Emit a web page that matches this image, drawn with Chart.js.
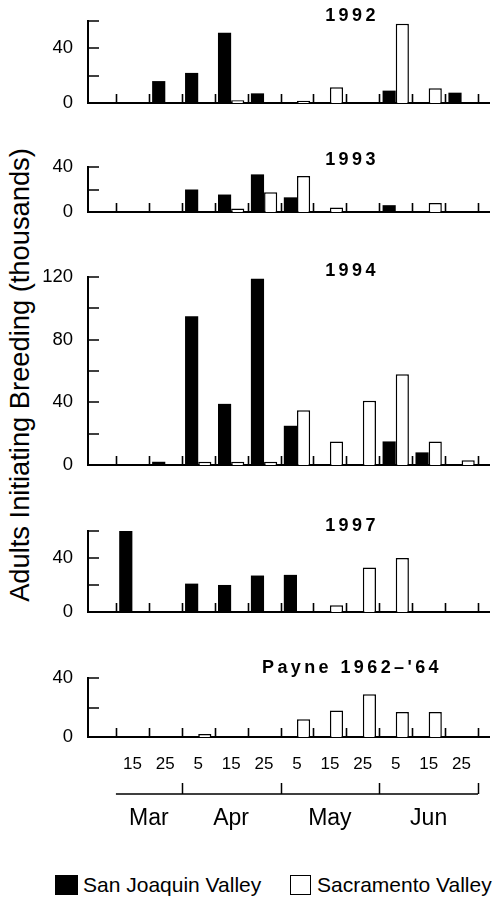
<!DOCTYPE html>
<html>
<head>
<meta charset="utf-8">
<script src="https://cdn.jsdelivr.net/npm/chart.js@4/dist/chart.umd.min.js"></script>
<style>
html,body{margin:0;padding:0;background:#fff;}
body{width:498px;height:899px;position:relative;overflow:hidden;font-family:"Liberation Sans",Arial,Helvetica,sans-serif;color:#000;}
canvas{position:absolute;left:0;}
.ttl{position:absolute;left:249px;width:200px;text-align:center;font-weight:bold;font-size:18px;line-height:20px;letter-spacing:3.4px;padding-left:3px;white-space:nowrap;}
#ytitle{position:absolute;left:-280px;top:360px;width:600px;height:30px;line-height:30px;font-size:27.3px;text-align:center;white-space:nowrap;transform:rotate(-90deg);transform-origin:50% 50%;}
.lg{position:absolute;font-size:21px;line-height:24px;white-space:nowrap;}
.sw{position:absolute;box-sizing:border-box;}
</style>
</head>
<body>
<div id="ytitle">Adults Initiating Breeding (thousands)</div>

<div class="sw" style="left:55px;top:875px;width:23px;height:20px;background:#000;"></div>
<div class="lg" style="left:83px;top:873px;">San Joaquin Valley</div>
<div class="sw" style="left:290px;top:875px;width:21px;height:20px;background:#fff;border:1px solid #000;"></div>
<div class="lg" style="left:317px;top:873px;">Sacramento Valley</div>

<script>
// ---- data ----
const categories = ['15','25','5','15','25','5','15','25','5','15','25'];
const months = ['Mar','Apr','May','Jun'];
const monthPeriods = [2,3,3,3];           // number of 10-day periods shown per month
const seriesNames = ['San Joaquin Valley','Sacramento Valley'];
const panelTitles = ['1992','1993','1994','1997',"Payne 1962\u2013'64"];
const yMaxima = [60,40,120,60,40];

const sanJoaquin1992 = [null,16,22,51.5,7,null,null,null,9,null,7.5];
const sacramento1992 = [null,null,null,2,null,1.5,11.5,null,58,10.7,null];
const sanJoaquin1993 = [null,null,20,15.5,33.5,13,null,null,6,null,null];
const sacramento1993 = [null,null,null,3,17.5,32,4,null,null,8,null];
const sanJoaquin1994 = [null,2,95,39,119,25,null,null,15,8,null];
const sacramento1994 = [null,null,2,2,2,35,15,41,58,15,3];
const sanJoaquin1997 = [60,null,21,20,27,27.5,null,null,null,null,null];
const sacramento1997 = [null,null,null,null,null,null,5,33,40,null,null];
const sanJoaquinPayne = [null,null,null,null,null,null,null,null,null,null,null];
const sacramentoPayne = [null,null,2,null,null,12,18,29,17,17,null];

const panelData = [
  [sanJoaquin1992, sacramento1992],
  [sanJoaquin1993, sacramento1993],
  [sanJoaquin1994, sacramento1994],
  [sanJoaquin1997, sacramento1997],
  [sanJoaquinPayne, sacramentoPayne]
];

// ---- layout (pixels) ----
const plotTops  = [7,153,263,517,664];
const plotZeros = [117,226,479,626,737];
const titleCenters = [15,159,270,525,667];
const X_MIN = -0.348, X_MAX = 11.833;
const FONT = '"Liberation Sans", Arial, Helvetica, sans-serif';

// month centres and boundaries derived from monthPeriods
const monthBounds = [0.5];
monthPeriods.forEach(n => monthBounds.push(monthBounds[monthBounds.length-1] + n));
const monthCenters = months.map((m,i) => (monthBounds[i] + monthBounds[i+1]) / 2);

const innerTicks = {
  id: 'innerTicks',
  afterDraw(chart, args, opts) {
    const {ctx, chartArea: a, scales} = chart;
    const x = scales.x, y = scales.y;
    ctx.save();
    ctx.strokeStyle = '#000';
    ctx.lineWidth = 1.6;
    ctx.beginPath();
    y.ticks.forEach(t => {
      const py = Math.round(y.getPixelForValue(t.value));
      ctx.moveTo(a.left, py); ctx.lineTo(a.left + 11, py);
    });
    for (let i = 0; i <= categories.length; i++) {
      const px = Math.round(x.getPixelForValue(i + 0.5)) + 0.5;
      ctx.moveTo(px, a.bottom); ctx.lineTo(px, a.bottom - 9);
    }
    ctx.stroke();
    if (opts.bracket) {
      const by = a.bottom + 57;
      ctx.beginPath();
      ctx.lineWidth = 1.5;
      ctx.moveTo(x.getPixelForValue(monthBounds[0]), by);
      ctx.lineTo(x.getPixelForValue(monthBounds[monthBounds.length-1]), by);
      for (let i = 1; i < monthBounds.length; i++) {
        const px = Math.round(x.getPixelForValue(monthBounds[i])) + 0.5;
        ctx.moveTo(px, by); ctx.lineTo(px, by - 11);
      }
      ctx.stroke();
    }
    ctx.restore();
  }
};

function toPoints(arr) { return arr.map((v, i) => ({x: i + 1, y: v})); }

panelData.forEach((pair, p) => {
  const isLast = p === panelData.length - 1;
  const padTop = 12;
  const padBottom = isLast ? 10 : 12;
  const xBox = isLast ? 37 : 0;
  const mBox = isLast ? 60 : 0;
  const canvasTop = plotTops[p] - padTop;
  const height = (plotZeros[p] - plotTops[p]) + padTop + xBox + mBox + padBottom;

  const cv = document.createElement('canvas');
  cv.width = 498; cv.height = height;
  cv.style.top = canvasTop + 'px';
  cv.style.width = '498px'; cv.style.height = height + 'px';
  document.body.appendChild(cv);

  const t = document.createElement('div');
  t.className = 'ttl';
  t.textContent = panelTitles[p];
  t.style.top = (titleCenters[p] - 10) + 'px';
  document.body.appendChild(t);

  const scales = {
    x: {
      type: 'linear', position: 'bottom', min: X_MIN, max: X_MAX,
      offset: false, bounds: 'data',
      afterBuildTicks: s => { s.ticks = categories.map((c, i) => ({value: i + 1})); },
      afterFit: s => { s.height = xBox; },
      grid: {display: false, drawTicks: false, offset: false},
      border: {display: true, color: '#000', width: 2},
      ticks: {
        display: isLast, autoSkip: false, maxRotation: 0, minRotation: 0,
        padding: 17, color: '#000', font: {family: FONT, size: 17},
        callback: (v, i) => categories[i]
      }
    },
    y: {
      type: 'linear', min: 0, max: yMaxima[p],
      afterFit: s => { s.width = 88; },
      grid: {display: false, drawTicks: false},
      border: {display: true, color: '#000', width: 2},
      ticks: {
        stepSize: 20, padding: 15, color: '#000', font: {family: FONT, size: 18.5},
        callback: v => (v % 40 === 0 ? String(v) : '')
      }
    }
  };
  if (isLast) {
    scales.m = {
      type: 'linear', position: 'bottom', weight: 1, min: X_MIN, max: X_MAX,
      offset: false, bounds: 'data',
      afterBuildTicks: s => { s.ticks = monthCenters.map(v => ({value: v})); },
      afterFit: s => { s.height = mBox; },
      grid: {display: false, drawTicks: false, offset: false},
      border: {display: false},
      ticks: {
        autoSkip: false, maxRotation: 0, minRotation: 0, padding: 31,
        color: '#000', font: {family: FONT, size: 23},
        callback: (v, i) => months[i]
      }
    };
  }

  new Chart(cv, {
    type: 'bar',
    data: {
      datasets: [
        {label: seriesNames[0], data: toPoints(pair[0]), xAxisID: 'x', yAxisID: 'y',
         backgroundColor: '#000', borderColor: '#000', borderWidth: 0},
        {label: seriesNames[1], data: toPoints(pair[1]), xAxisID: 'x', yAxisID: 'y',
         backgroundColor: '#fff', borderColor: '#000', borderWidth: 1.5}
      ]
    },
    options: {
      responsive: false, animation: false, devicePixelRatio: 1, events: [],
      categoryPercentage: 0.8, barPercentage: 1.0,
      layout: {padding: {top: padTop, bottom: padBottom, left: 0, right: 9}},
      plugins: {legend: {display: false}, tooltip: {enabled: false}, title: {display: false},
                innerTicks: {bracket: isLast}},
      scales
    },
    plugins: [innerTicks]
  });
});
</script>
</body>
</html>
